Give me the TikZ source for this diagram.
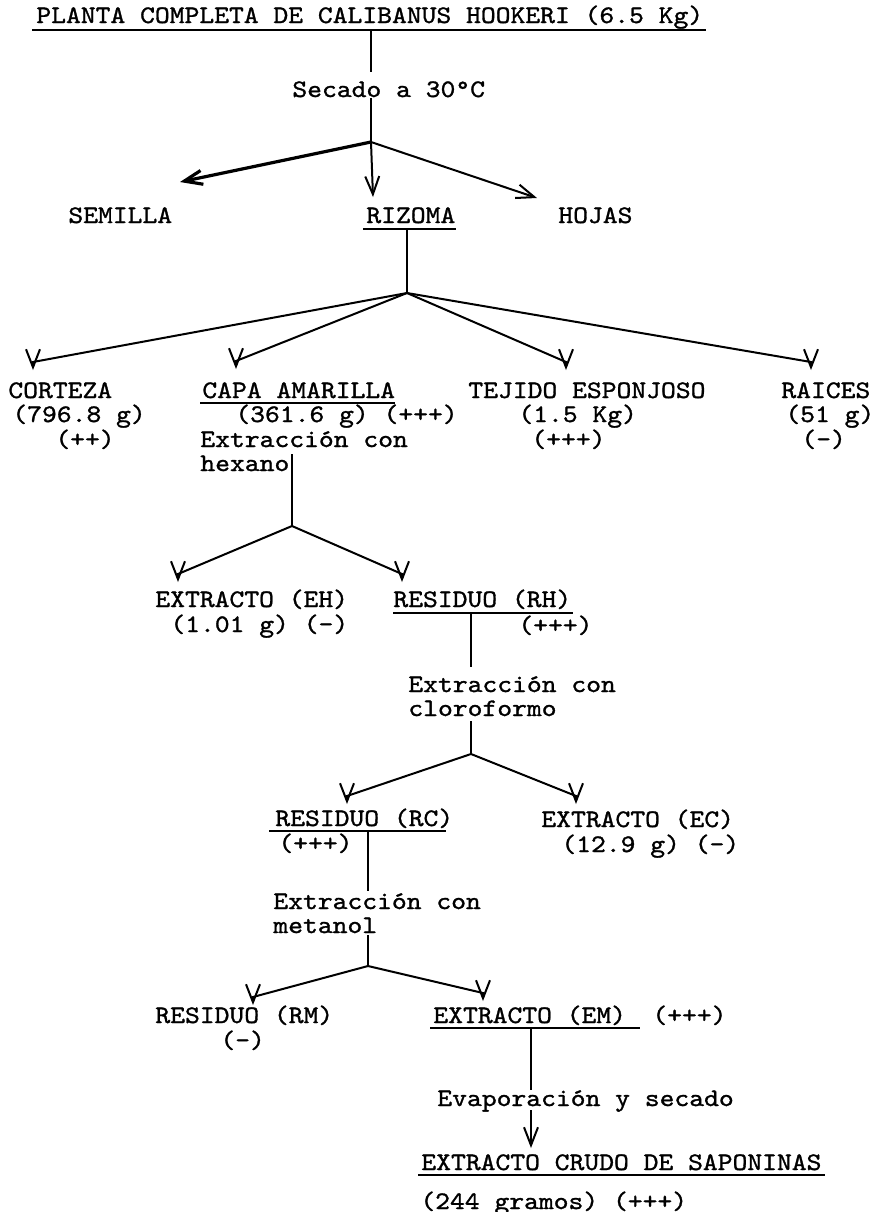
\documentclass[tikz,border=0pt]{standalone}
\usepackage{fontspec}
\usepackage{tikz}
\usetikzlibrary{calc,arrows.meta}
\newfontfamily\typefont{lmmono10-regular}[Extension=.otf,FakeStretch=1.12,FakeBold=1.2]
\tikzset{
  txt/.style={anchor=base west,inner sep=0pt,font=\fontsize{12.6pt}{12pt}\typefont},
  ln/.style={line width=1pt},
  uline/.style={line width=0.8pt},
}
\begin{document}
\begin{tikzpicture}[x=0.5pt,y=-0.5pt,>={Straight Barb[length=9pt,width=7pt]}]
\useasboundingbox[fill=white] (0,0) rectangle (876,1212);

\node[txt] (planta) at (36,23) {PLANTA COMPLETA DE CALIBANUS HOOKERI (6.5 Kg)};
\node[txt] (secado) at (292,97) {Secado a 30°C};
\node[txt] (semilla) at (68,223) {SEMILLA};
\node[txt] (rizoma) at (366,223) {RIZOMA};
\node[txt] (hojas) at (558,223) {HOJAS};
\node[txt] (corteza) at (8,398) {CORTEZA};
\node[txt] (cortezaB) at (12,422) {(796.8 g)};
\node[txt] (cortezaC) at (55,447) {(++)};
\node[txt] (capa) at (202,398) {CAPA AMARILLA};
\node[txt] (capaB) at (235,422) {(361.6 g) (+++)};
\node[txt] (hex) at (200,447) {Extracción con};
\node[txt] (hexB) at (200,471) {hexano};
\node[txt] (tejido) at (468,398) {TEJIDO ESPONJOSO};
\node[txt] (tejidoB) at (518,422) {(1.5 Kg)};
\node[txt] (tejidoC) at (531,447) {(+++)};
\node[txt] (raices) at (781,398) {RAICES};
\node[txt] (raicesB) at (785,422) {(51 g)};
\node[txt] (raicesC) at (801,447) {(-)};
\node[txt] (eh) at (155,607) {EXTRACTO (EH)};
\node[txt] (ehB) at (170,632) {(1.01 g) (-)};
\node[txt] (rh) at (393,607) {RESIDUO (RH)};
\node[txt] (rhB) at (518,633) {(+++)};
\node[txt] (clor) at (408,692) {Extracción con};
\node[txt] (clorB) at (408,716) {cloroformo};
\node[txt] (rc) at (275,826) {RESIDUO (RC)};
\node[txt] (rcB) at (278,851) {(+++)};
\node[txt] (ec) at (541,827) {EXTRACTO (EC)};
\node[txt] (ecB) at (561,852) {(12.9 g) (-)};
\node[txt] (met) at (273,909) {Extracción con};
\node[txt] (metB) at (273,933) {metanol};
\node[txt] (rm) at (155,1023) {RESIDUO (RM)};
\node[txt] (rmB) at (220,1048) {(-)};
\node[txt] (em) at (433,1023) {EXTRACTO (EM)};
\node[txt] (emB) at (652,1023) {(+++)};
\node[txt] (evap) at (437,1106) {Evaporación y secado};
\node[txt] (crudo) at (421,1170) {EXTRACTO CRUDO DE SAPONINAS};
\node[txt] (crudoB) at (420,1209) {(244 gramos) (+++)};

\draw[uline] (32,30) -- (706,30);
\draw[uline] (363,229) -- (456,229);
\draw[uline] (200,403) -- (395,403);
\draw[uline] (393,613) -- (573,613);
\draw[uline] (269,831) -- (446,831);
\draw[uline] (430,1028) -- (640,1028);
\draw[uline] (418,1175) -- (825,1175);

\coordinate (t0) at (371,30);
\coordinate (t1) at (371,72);
\coordinate (t2) at (371,98);
\coordinate (b1) at (371,142);
\coordinate (aSem) at (180,182);
\coordinate (aRiz) at (373,197);
\coordinate (aHoj) at (537,198);
\coordinate (r0) at (407,229);
\coordinate (b2) at (407,293);
\coordinate (aCor) at (33,370);
\coordinate (aCap) at (236,369);
\coordinate (aTej) at (566,370);
\coordinate (aRai) at (811,370);
\coordinate (h0) at (292,454);
\coordinate (b3) at (292,526);
\coordinate (aEh) at (178,582);
\coordinate (aRh) at (402,582);
\coordinate (c0) at (471,613);
\coordinate (c1) at (471,667);
\coordinate (c2) at (471,721);
\coordinate (b4) at (471,754);
\coordinate (aRc) at (347,804);
\coordinate (aEc) at (576,804);
\coordinate (m0) at (368,831);
\coordinate (m1) at (368,891);
\coordinate (m2) at (368,935);
\coordinate (b5) at (368,966);
\coordinate (aRm) at (253,1005);
\coordinate (aEm) at (483,1001);
\coordinate (e0) at (531,1028);
\coordinate (e1) at (531,1090);
\coordinate (e2) at (531,1110);
\coordinate (aCru) at (531,1148);

\draw[ln] (t0) -- (t1) (t2) -- (b1);
\draw[->,line width=1.6pt] (b1) -- (aSem);
\draw[ln,->] (b1) -- (aRiz);
\draw[ln,->] (b1) -- (aHoj);
\draw[ln] (r0) -- (b2);
\foreach \p in {aCor,aCap,aTej,aRai}
  \draw[ln,->] (b2) -- ($(\p)+(0,-8)$) -- (\p);
\draw[ln] (h0) -- (b3);
\foreach \p in {aEh,aRh}
  \draw[ln,->] (b3) -- ($(\p)+(0,-8)$) -- (\p);
\draw[ln] (c0) -- (c1) (c2) -- (b4);
\foreach \p in {aRc,aEc}
  \draw[ln,->] (b4) -- ($(\p)+(0,-8)$) -- (\p);
\draw[ln] (m0) -- (m1) (m2) -- (b5);
\foreach \p in {aRm,aEm}
  \draw[ln,->] (b5) -- ($(\p)+(0,-8)$) -- (\p);
\draw[ln] (e0) -- (e1);
\draw[ln,->] (e2) -- (aCru);
\end{tikzpicture}
\end{document}
